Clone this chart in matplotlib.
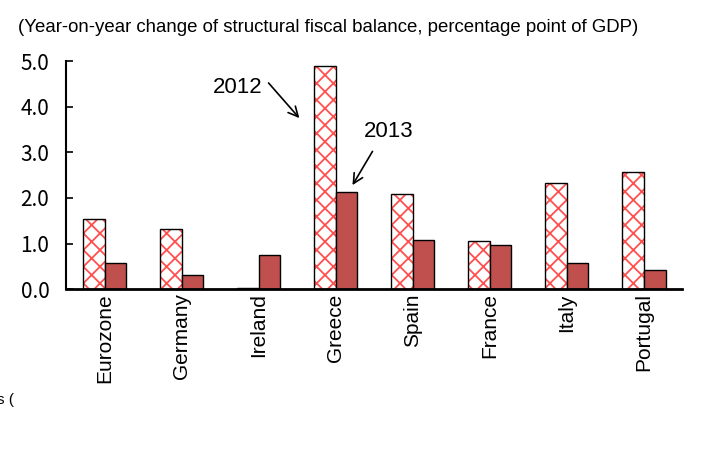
import matplotlib.pyplot as plt
import numpy as np

countries = ["Eurozone", "Germany", "Ireland", "Greece", "Spain", "France", "Italy", "Portugal"]
change_2012 = [1.53, 1.32, 0.02, 4.89, 2.08, 1.05, 2.33, 2.57]
change_2013 = [0.57, 0.31, 0.75, 2.13, 1.07, 0.96, 0.57, 0.42]
yticks = [0.0, 1.0, 2.0, 3.0, 4.0, 5.0]

plt.rcParams["hatch.linewidth"] = 1.3

fig = plt.figure(figsize=(7.2, 4.59), dpi=100)
ax = fig.add_axes([0.0917, 0.370, 0.8556, 0.497])

x = np.arange(len(countries))
w = 0.285

# 2012: red crosshatch on white, drawn twice so the outline stays black
ax.bar(x - w / 2, change_2012, w, color="white", edgecolor="#ff5050",
       hatch="xx", linewidth=0)
ax.bar(x - w / 2, change_2012, w, fill=False, edgecolor="black", linewidth=1.0)
ax.bar(x + w / 2, change_2013, w, color="#c0504d", edgecolor="black", linewidth=1.0)

ax.set_xlim(-0.5, 7.5)
ax.set_ylim(0, 5)
ax.set_yticks(yticks)
ax.set_yticklabels([f"{v:.1f}" for v in yticks], family="Noto Sans CJK JP", fontsize=15)
ax.set_xticks(x)
ax.set_xticklabels(countries, rotation=90, family="Liberation Sans", fontsize=15)
ax.tick_params(axis="x", length=0, pad=3)
ax.tick_params(axis="y", direction="in", length=5, width=1.2, pad=12)

for side in ["top", "right"]:
    ax.spines[side].set_visible(False)
ax.spines["left"].set_linewidth(1.5)
ax.spines["bottom"].set_linewidth(2)

arrow = dict(arrowstyle="->, head_length=0.7, head_width=0.35", color="black",
             lw=1.2, shrinkA=0, shrinkB=0)
ax.text(2.05, 4.41, "2012", ha="right", va="center", fontsize=16, family="Liberation Sans")
ax.annotate("", xy=(2.53, 3.75), xytext=(2.13, 4.52), arrowprops=arrow)
ax.text(3.69, 3.46, "2013", ha="center", va="center", fontsize=16, family="Liberation Sans")
ax.annotate("", xy=(3.22, 2.28), xytext=(3.48, 3.02), arrowprops=arrow)

fig.text(0.025, 0.939, "(Year-on-year change of structural fiscal balance, percentage point of GDP)",
         fontsize=13.4, family="Liberation Sans", va="center", ha="left")
fig.text(-0.004, 0.128, "s (", fontsize=11, family="Liberation Sans", va="center", ha="left")

fig.savefig("out.png", dpi=100)
